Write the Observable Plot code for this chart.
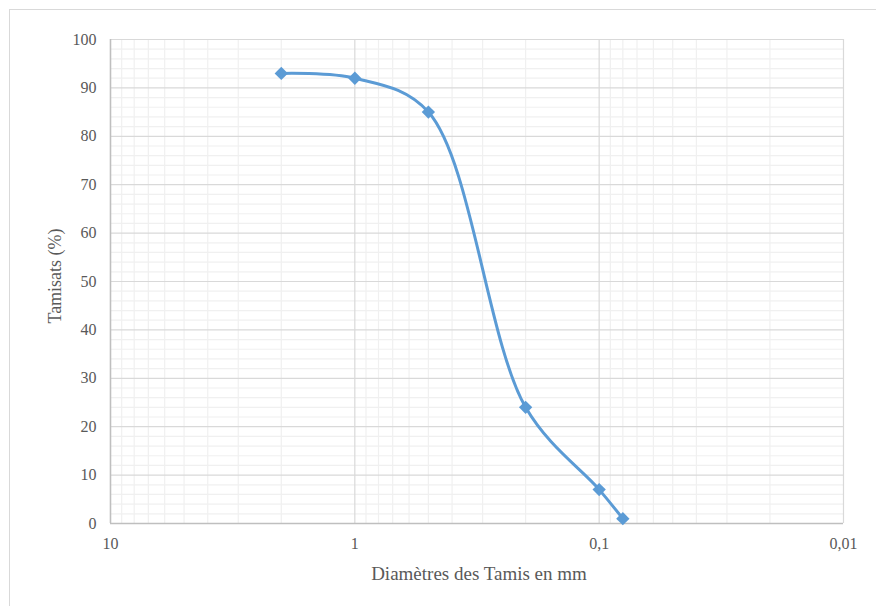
<!DOCTYPE html>
<html>
<head>
<meta charset="utf-8">
<script src="https://cdn.jsdelivr.net/npm/d3@7"></script>
<script src="https://cdn.jsdelivr.net/npm/@observablehq/plot@0.6"></script>
<style>
  html, body { margin: 0; padding: 0; background: #fff; }
  #wrap { position: relative; width: 876px; height: 606px; overflow: hidden; }
  #border { position: absolute; left: 9px; top: 9px; width: 900px; height: 700px; border: 1px solid #d9d9d9; box-sizing: border-box; }
  #chart { position: absolute; left: 0; top: 0; }
  #chart svg, #chart svg text { font-family: "Liberation Serif", "Times New Roman", serif !important; }
</style>
</head>
<body>
<div id="wrap"><div id="border"></div><div id="chart"></div></div>
<script>
const diameters = [2, 1, 0.5, 0.2, 0.1, 0.08];
const passing = [93, 92, 85, 24, 7, 1];
const xMajorTicks = [10, 1, 0.1, 0.01];
const xMinorTicks = [9, 8, 7, 6, 5, 4, 3, 2, 0.9, 0.8, 0.7, 0.6, 0.5, 0.4, 0.3, 0.2, 0.09, 0.08, 0.07, 0.06, 0.05, 0.04, 0.03, 0.02];
const yMajorTicks = [0, 10, 20, 30, 40, 50, 60, 70, 80, 90, 100];
const yMinorTicks = [2, 4, 6, 8, 12, 14, 16, 18, 22, 24, 26, 28, 32, 34, 36, 38, 42, 44, 46, 48, 52, 54, 56, 58, 62, 64, 66, 68, 72, 74, 76, 78, 82, 84, 86, 88, 92, 94, 96, 98];

const data = diameters.map((d, i) => ({d, p: passing[i]}));
const fmt = v => String(v).replace(".", ",");

const chart = Plot.plot({
  width: 876,
  height: 606,
  marginLeft: 110,
  marginRight: 33,
  marginTop: 39,
  marginBottom: 83,
  style: "font-family: 'Liberation Serif', serif; font-size: 16px; color: #595959; background: transparent;",
  x: {type: "log", domain: [10, 0.01], ticks: xMajorTicks, tickFormat: fmt, tickSize: 0, tickPadding: 14, label: null},
  y: {domain: [0, 100], ticks: yMajorTicks, tickSize: 0, tickPadding: 14, label: null},
  marks: [
    Plot.ruleX(xMinorTicks, {stroke: "#f0f0f0", strokeWidth: 1.2}),
    Plot.ruleY(yMinorTicks, {stroke: "#f0f0f0", strokeWidth: 1.2}),
    Plot.ruleX(xMajorTicks, {stroke: "#d9d9d9", strokeWidth: 1.2}),
    Plot.ruleY(yMajorTicks, {stroke: "#d9d9d9", strokeWidth: 1.2}),
    Plot.ruleX([10], {stroke: "#bfbfbf", strokeWidth: 1.5}),
    Plot.ruleY([0], {stroke: "#bfbfbf", strokeWidth: 1.5}),
    Plot.line(data, {x: "d", y: "p", curve: "catmull-rom", stroke: "#5b9bd5", strokeWidth: 3}),
    Plot.dot(data, {x: "d", y: "p", symbol: "diamond2", r: 6, fill: "#5b9bd5", stroke: "none"}),
    Plot.axisX({ticks: xMajorTicks, tickFormat: fmt, tickSize: 0, tickPadding: 14, label: null, fontSize: 16}),
    Plot.axisY({ticks: yMajorTicks, tickSize: 0, tickPadding: 14, label: null, fontSize: 16})
  ]
});
document.getElementById("chart").appendChild(chart);

const svg = d3.select(chart);
svg.attr("font-family", "'Liberation Serif', serif");
svg.append("text")
  .attr("x", 479).attr("y", 580)
  .attr("text-anchor", "middle")
  .attr("fill", "#595959")
  .style("font-size", "19px")
  .text("Diamètres des Tamis en mm");
svg.append("text")
  .attr("transform", "translate(61,276) rotate(-90)")
  .attr("text-anchor", "middle")
  .attr("fill", "#595959")
  .style("font-size", "18px")
  .text("Tamisats (%)");
</script>
</body>
</html>
